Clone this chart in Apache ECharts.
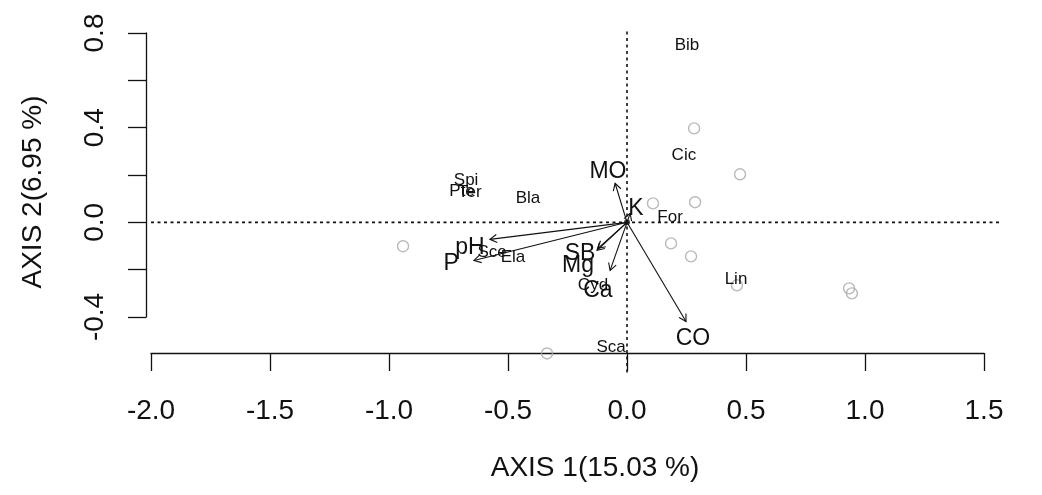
<!DOCTYPE html>
<html>
<head>
<meta charset="utf-8">
<script src="https://cdn.jsdelivr.net/npm/echarts@6/dist/echarts.min.js"></script>
<style>
  html, body { margin: 0; padding: 0; background: #fff; }
  #chart { width: 1042px; height: 495px; }
</style>
</head>
<body>
<div id="chart"></div>
<script>
// Site scores (open grey circles)
const siteX = [0.282, 0.475, 0.109, 0.286, 0.185, 0.269, 0.462, 0.933, 0.945, -0.941, -0.336];
const siteY = [0.397, 0.203, 0.080, 0.085, -0.089, -0.144, -0.266, -0.279, -0.300, -0.101, -0.554];

// Taxa scores (small labels)
const taxa  = ['Bib', 'Cic', 'For', 'Lin', 'Sca', 'Spi', 'Pte', 'Ter', 'Bla', 'Ela', 'Sce', 'Cyd'];
const taxaX = [0.252, 0.239, 0.181, 0.458, -0.067, -0.676, -0.693, -0.660, -0.416, -0.479, -0.567, -0.143];
const taxaY = [0.748, 0.283, 0.021, -0.241, -0.529, 0.178, 0.131, 0.127, 0.101, -0.148, -0.127, -0.266];

// Environmental variables: arrow tips and label positions
const envVars   = ['MO', 'K', 'CO', 'Ca', 'Mg', 'SB', 'pH', 'P'];
const envX      = [-0.050, 0.013, 0.248, -0.071, -0.122, -0.126, -0.576, -0.643];
const envY      = [0.165, 0.038, -0.419, -0.203, -0.110, -0.118, -0.072, -0.161];
const envLabelX = [-0.080, 0.038, 0.277, -0.122, -0.206, -0.197, -0.660, -0.739];
const envLabelY = [0.215, 0.059, -0.490, -0.288, -0.182, -0.131, -0.106, -0.173];

// Axis ticks and titles
const yLabelledTicks = [-0.4, 0.0, 0.4, 0.8];
const axisTitleX = 'AXIS 1(15.03 %)';
const axisTitleY = 'AXIS 2(6.95 %)';

// Dotted reference lines through the origin: [x1, y1, x2, y2]
const refLines = [[-2.0, 0, 1.57, 0], [0, -0.635, 0, 0.82]];

const FONT = "'Liberation Sans', Arial, sans-serif";
const INK = '#111';

const chart = echarts.init(document.getElementById('chart'), null, { renderer: 'canvas' });

const option = {
  backgroundColor: '#fff',
  animation: false,
  grid: { left: 151, right: 58, top: 33, bottom: 178, containLabel: false },
  xAxis: {
    type: 'value', min: -2.0, max: 1.5, interval: 0.5,
    offset: 36,
    splitLine: { show: false },
    axisLine: { show: true, onZero: false, lineStyle: { color: INK, width: 1.3 } },
    axisTick: { show: true, inside: false, length: 18, lineStyle: { color: INK, width: 1.3 } },
    axisLabel: {
      margin: 44, fontSize: 28, color: INK, fontFamily: FONT,
      formatter: v => v.toFixed(1)
    }
  },
  yAxis: {
    type: 'value', min: -0.4, max: 0.8, interval: 0.2,
    offset: 5,
    splitLine: { show: false },
    axisLine: { show: true, onZero: false, lineStyle: { color: INK, width: 1.3 } },
    axisTick: { show: true, inside: false, length: 18, lineStyle: { color: INK, width: 1.3 } },
    axisLabel: {
      margin: 37, fontSize: 28, color: INK, fontFamily: FONT, rotate: 90,
      formatter: v => yLabelledTicks.some(t => Math.abs(t - v) < 1e-6) ? v.toFixed(1) : ''
    }
  },
  graphic: [
    {
      type: 'text', x: 595, y: 468,
      style: { text: axisTitleX, fontSize: 28, fontFamily: FONT, fill: INK, align: 'center', verticalAlign: 'middle' }
    },
    {
      type: 'text', x: 33, y: 192, rotation: Math.PI / 2,
      style: { text: axisTitleY, fontSize: 28, fontFamily: FONT, fill: INK, align: 'center', verticalAlign: 'middle' }
    }
  ],
  series: [
    {
      // dotted zero lines
      type: 'custom', clip: false, z: 1,
      data: refLines,
      renderItem: (params, api) => {
        const a = api.coord([api.value(0), api.value(1)]);
        const b = api.coord([api.value(2), api.value(3)]);
        return {
          type: 'line',
          shape: { x1: a[0], y1: a[1], x2: b[0], y2: b[1] },
          style: { stroke: INK, lineWidth: 1.6, lineDash: [3, 3.5] }
        };
      }
    },
    {
      // sites
      type: 'scatter', clip: false, z: 2,
      symbol: 'circle', symbolSize: 11,
      itemStyle: { color: 'rgba(0,0,0,0)', borderColor: '#a8a8a8', borderWidth: 1.4 },
      data: siteX.map((x, i) => [x, siteY[i]])
    },
    {
      // environmental arrows
      type: 'custom', clip: false, z: 3,
      data: envX.map((x, i) => [x, envY[i]]),
      renderItem: (params, api) => {
        const o = api.coord([0, 0]);
        const t = api.coord([api.value(0), api.value(1)]);
        const ang = Math.atan2(t[1] - o[1], t[0] - o[0]);
        const L = 8, a = Math.PI / 6;
        const p1 = [t[0] - L * Math.cos(ang - a), t[1] - L * Math.sin(ang - a)];
        const p2 = [t[0] - L * Math.cos(ang + a), t[1] - L * Math.sin(ang + a)];
        return {
          type: 'group',
          children: [
            { type: 'line', shape: { x1: o[0], y1: o[1], x2: t[0], y2: t[1] }, style: { stroke: INK, lineWidth: 1.1 } },
            { type: 'polyline', shape: { points: [p1, t, p2] }, style: { stroke: INK, fill: null, lineWidth: 1.1 } }
          ]
        };
      }
    },
    {
      // common origin of the arrows
      type: 'scatter', z: 4, symbol: 'circle', symbolSize: 6,
      itemStyle: { color: INK },
      data: [[0, 0]]
    },
    {
      // taxa labels
      type: 'custom', clip: false, z: 5,
      data: taxaX.map((x, i) => [x, taxaY[i], i]),
      renderItem: (params, api) => {
        const p = api.coord([api.value(0), api.value(1)]);
        return {
          type: 'text', x: p[0], y: p[1],
          style: { text: taxa[api.value(2)], fontSize: 17, fontFamily: FONT, fill: INK, align: 'center', verticalAlign: 'middle' }
        };
      }
    },
    {
      // environmental variable labels
      type: 'custom', clip: false, z: 6,
      data: envLabelX.map((x, i) => [x, envLabelY[i], i]),
      renderItem: (params, api) => {
        const p = api.coord([api.value(0), api.value(1)]);
        return {
          type: 'text', x: p[0], y: p[1],
          style: { text: envVars[api.value(2)], fontSize: 23, fontFamily: FONT, fill: INK, align: 'center', verticalAlign: 'middle' }
        };
      }
    }
  ]
};

chart.setOption(option);
</script>
</body>
</html>
